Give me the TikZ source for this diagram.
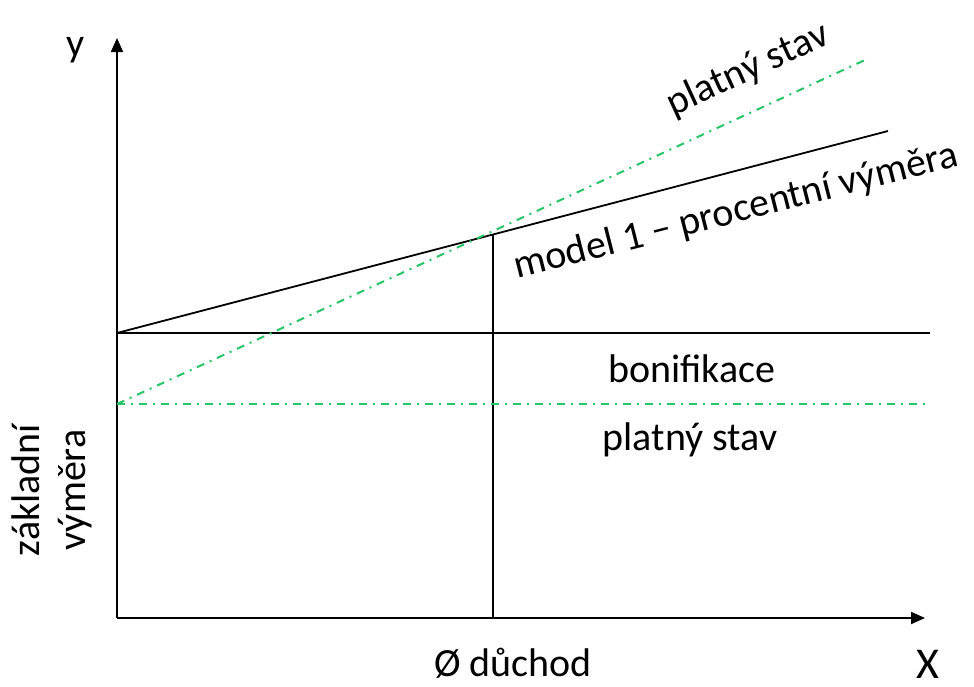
\documentclass[tikz,border=0pt]{standalone}
\usepackage{fontspec}
\setmainfont{Carlito}
\usetikzlibrary{arrows.meta}
\definecolor{stavgreen}{RGB}{40,196,104}
\tikzset{
  axis/.style = {line width=1pt, -{Triangle[length=7pt,width=6pt]}},
  model/.style = {line width=0.9pt, black},
  stav/.style = {line width=1pt, stavgreen, dash pattern=on 4pt off 3pt on 1pt off 3pt},
  lbl/.style = {font=\fontsize{20}{23}\selectfont, inner sep=0pt}
}
\begin{document}
\begin{tikzpicture}[x=0.5pt, y=-0.5pt]

\useasboundingbox (0,0) rectangle (974,686);

% points
\coordinate (O) at (117,618);
\coordinate (ytip) at (117,38);
\coordinate (xtip) at (925,618);
\coordinate (b0) at (117,333);
\coordinate (b1) at (930,333);
\coordinate (g0) at (117,404);
\coordinate (g1) at (930,404);
\coordinate (gend) at (865,60);
\coordinate (mend) at (888,131);
\coordinate (dx) at (493,618);
\coordinate (dm) at (493,234);

% draw axes
\draw [axis] (O) -- (ytip);
\draw [axis] (O) -- (xtip);

% draw lines
\draw [model] (b0) -- (b1);
\draw [model] (b0) -- (mend);
\draw [model] (dx) -- (dm);
\draw [stav] (g0) -- (g1);
\draw [stav] (g0) -- (gend);

% labels
\node [lbl] (ylbl) at (76,50) {y};
\node [lbl, font=\fontsize{22}{26}\selectfont] (xlbl) at (928,664) {X};
\node [lbl, rotate=24.7] (stavtop) at (748,70) {platný stav};
\node [lbl, rotate=14.3] (modellbl) at (736,212) {model 1 – procentní výměra};
\node [lbl] (bonlbl) at (692,369) {bonifikace};
\node [lbl] (stavlbl) at (690,440) {platný stav};
\node [lbl] (duchod) at (513,663) {Ø důchod};
\node [lbl, rotate=90, align=center] (zaklad) at (52,490) {základní\\výměra};

\end{tikzpicture}
\end{document}
